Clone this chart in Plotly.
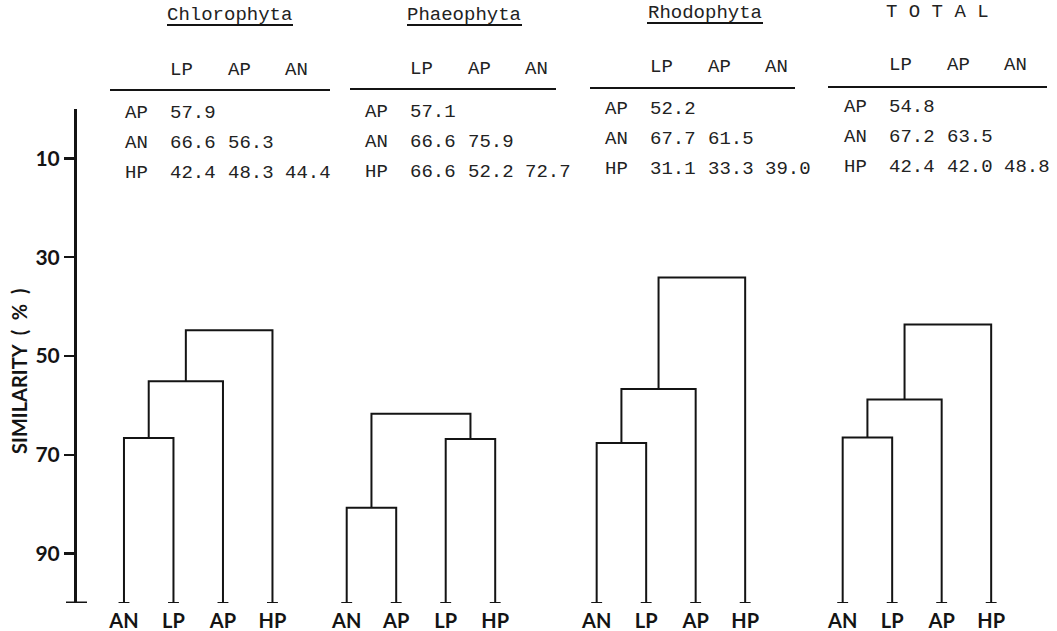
import plotly.graph_objects as go

# ---------------- data ----------------
table_cols = ["LP", "AP", "AN"]
table_rows = ["AP", "AN", "HP"]

chloro_title = "Chlorophyta"
chloro_table = [[57.9], [66.6, 56.3], [42.4, 48.3, 44.4]]
chloro_leaves = ["AN", "LP", "AP", "HP"]
chloro_links = [[0, 1, 66.6], [4, 2, 55.1], [5, 3, 44.8]]

phaeo_title = "Phaeophyta"
phaeo_table = [[57.1], [66.6, 75.9], [66.6, 52.2, 72.7]]
phaeo_leaves = ["AN", "AP", "LP", "HP"]
phaeo_links = [[0, 1, 80.7], [2, 3, 66.8], [4, 5, 61.7]]

rhodo_title = "Rhodophyta"
rhodo_table = [[52.2], [67.7, 61.5], [31.1, 33.3, 39.0]]
rhodo_leaves = ["AN", "LP", "AP", "HP"]
rhodo_links = [[0, 1, 67.6], [4, 2, 56.7], [5, 3, 34.1]]

total_title = "T O T A L"
total_table = [[54.8], [67.2, 63.5], [42.4, 42.0, 48.8]]
total_leaves = ["AN", "LP", "AP", "HP"]
total_links = [[0, 1, 66.5], [4, 2, 58.8], [5, 3, 43.6]]

y_ticks = [10, 30, 50, 70, 90]
y_title = "SIMILARITY\u00a0\u00a0(\u00a0\u00a0%\u00a0\u00a0)"

# ---------------- layout constants ----------------
W, H = 1057, 631
L, T = 77, 109
B = 28
PW, PH = W - L, H - T - B
group_offsets = [0.0, 4.5, 9.55, 14.52]      # leaf-spacing units
x_range = [-0.949, 18.85]
LINE = "#141414"
TXT = "#222222"
MONO = "Liberation Mono, Courier New, monospace"
SANS = "Lato, Open Sans, sans-serif"

groups = [
    (chloro_title, chloro_table, chloro_leaves, chloro_links),
    (phaeo_title, phaeo_table, phaeo_leaves, phaeo_links),
    (rhodo_title, rhodo_table, rhodo_leaves, rhodo_links),
    (total_title, total_table, total_leaves, total_links),
]
# table placement (pixels)
tab_label_x = [123, 363, 603, 842]
col_offsets = [45, 103, 160]
tab_row_y = [113, 112, 109, 107]
tab_head_y = [70, 69, 67, 65]
tab_rule_y = [90, 89, 88, 87]
tab_rule_x = [(110, 330), (350, 556), (590, 795), (828, 1047)]
title_x = [229, 464, 705, 937]
title_y = [15, 15, 13, 12]
underline = [(167, 293, 25), (407, 522, 25), (647, 763, 23), None]


def px_x(px):
    return (px - L) / PW


def px_y(py):
    return 1 - (py - T) / PH


fig = go.Figure()
tickvals, ticktext = [], []

for g, (title, table, leaves, links) in enumerate(groups):
    off = group_offsets[g]
    nodes = [(off + i, 100.0) for i in range(len(leaves))]
    xs, ys = [], []
    for a, b, h in links:
        xa, ha = nodes[int(a)]
        xb, hb = nodes[int(b)]
        xs += [xa, xa, xb, xb, None]
        ys += [ha, h, h, hb, None]
        nodes.append(((xa + xb) / 2, h))
    for i in range(len(leaves)):
        xs += [off + i - 0.11, off + i + 0.11, None]
        ys += [100, 100, None]
        tickvals.append(off + i)
        ticktext.append(leaves[i])
    fig.add_trace(go.Scatter(x=xs, y=ys, mode="lines",
                             line=dict(color=LINE, width=2),
                             hoverinfo="skip", showlegend=False))

annotations = []
shapes = []
for g, (title, table, leaves, links) in enumerate(groups):
    annotations.append(dict(text=title, x=px_x(title_x[g]), y=px_y(title_y[g]),
                            xref="paper", yref="paper", showarrow=False,
                            xanchor="center", yanchor="middle",
                            font=dict(family=MONO, size=19, color=TXT)))
    if underline[g]:
        x0, x1, yy = underline[g]
        shapes.append(dict(type="line", xref="paper", yref="paper",
                           x0=px_x(x0), x1=px_x(x1), y0=px_y(yy), y1=px_y(yy),
                           line=dict(color=LINE, width=1.8)))
    lx = tab_label_x[g]
    for j, c in enumerate(table_cols):
        annotations.append(dict(text=c, x=px_x(lx + col_offsets[j]), y=px_y(tab_head_y[g]),
                                xref="paper", yref="paper", showarrow=False,
                                xanchor="left", yanchor="middle",
                                font=dict(family=MONO, size=19, color=TXT)))
    rx0, rx1 = tab_rule_x[g]
    shapes.append(dict(type="line", xref="paper", yref="paper",
                       x0=px_x(rx0), x1=px_x(rx1), y0=px_y(tab_rule_y[g]), y1=px_y(tab_rule_y[g]),
                       line=dict(color=LINE, width=2.2)))
    for r, rname in enumerate(table_rows):
        yy = tab_row_y[g] + 30 * r
        annotations.append(dict(text=rname, x=px_x(lx), y=px_y(yy),
                                xref="paper", yref="paper", showarrow=False,
                                xanchor="left", yanchor="middle",
                                font=dict(family=MONO, size=19, color=TXT)))
        for j, v in enumerate(table[r]):
            annotations.append(dict(text=f"{v:.1f}", x=px_x(lx + col_offsets[j]), y=px_y(yy),
                                    xref="paper", yref="paper", showarrow=False,
                                    xanchor="left", yanchor="middle",
                                    font=dict(family=MONO, size=19, color=TXT)))

# y-axis title
annotations.append(dict(text=y_title, x=px_x(19), y=px_y(372), xref="paper", yref="paper",
                        showarrow=False, textangle=-90, xanchor="center", yanchor="middle",
                        font=dict(family=SANS, size=20, color=LINE, weight="bold")))
# bottom cap of the axis
shapes.append(dict(type="line", xref="paper", yref="y",
                   x0=px_x(66), x1=px_x(87), y0=100, y1=100,
                   line=dict(color=LINE, width=3)))

fig.update_layout(
    width=W, height=H,
    margin=dict(l=L, r=0, t=T, b=B, pad=0),
    paper_bgcolor="white", plot_bgcolor="white",
    annotations=annotations, shapes=shapes,
    xaxis=dict(range=x_range, showgrid=False, zeroline=False, showline=False,
               tickvals=tickvals, ticktext=ticktext, ticks="",
               ticklabelstandoff=4,
               tickfont=dict(family=SANS, size=20, color=LINE, weight="bold")),
    yaxis=dict(range=[100, 0], showgrid=False, zeroline=False, showline=True,
               linecolor=LINE, linewidth=3, ticks="outside", ticklen=10,
               tickwidth=2.5, tickcolor=LINE, tickvals=y_ticks,
               tickfont=dict(family=SANS, size=21, color=LINE, weight="bold")),
)

fig.write_html("out.html",
               config={"displayModeBar": False, "staticPlot": True},
               post_script="document.body.style.margin='0';document.body.style.overflow='hidden';")
